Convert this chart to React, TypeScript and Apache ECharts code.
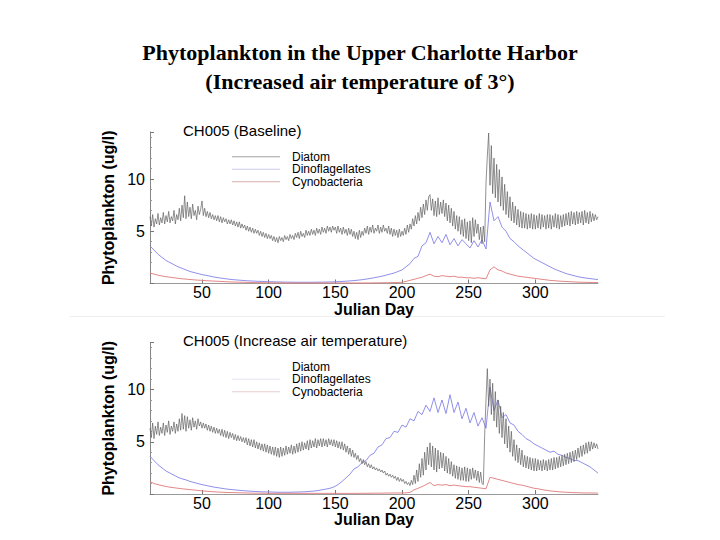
import React, { useEffect, useRef } from "react";
import * as echarts from "echarts";

const titleLines = ["Phytoplankton in the Upper Charlotte Harbor", "(Increased air temperature of 3°)"];
const panelTitles = ["CH005 (Baseline)", "CH005 (Increase air temperature)"];
const seriesNames = ["Diatom", "Dinoflagellates", "Cynobacteria"];
const xAxisName = "Julian Day";
const yAxisName = "Phytoplankton (ug/l)";
const firstDay = 11;
const lastDay = 347;
const diatomStep = 1;
const otherStep = 3;
const yTickLabels = [5, 10];

// Baseline panel, daily values from day 11
const diatomBaseline = [
  6.4,5.5,6.6,5.4,6.2,5.7,6.7,5.6,6.3,5.8,
  6.8,5.7,6.5,5.9,6.9,5.8,6.4,6.0,7.0,5.7,
  6.6,6.1,7.2,6.0,7.5,6.3,8.4,6.2,7.8,6.4,
  7.3,6.2,7.6,6.5,7.0,6.1,7.4,6.6,7.1,7.9,
  6.5,7.2,6.4,6.9,6.3,6.8,6.2,6.6,6.1,6.5,
  6.0,6.5,5.9,6.4,5.8,6.3,5.9,6.2,5.7,6.1,
  5.7,6.1,5.6,6.0,5.5,5.9,5.4,5.9,5.3,5.7,
  5.3,5.6,5.1,5.5,5.0,5.4,4.9,5.3,4.8,5.2,
  4.8,5.1,4.6,5.0,4.5,4.9,4.4,4.8,4.3,4.7,
  4.3,4.6,4.1,4.5,4.0,4.4,3.9,4.5,4.1,4.4,
  4.0,4.6,4.2,4.5,4.1,4.7,4.3,4.6,4.2,4.8,
  4.4,4.9,4.3,5.0,4.5,4.8,4.4,5.1,4.6,5.0,
  4.6,5.2,4.7,5.1,4.6,5.3,4.8,5.2,4.7,5.4,
  4.9,5.3,4.8,5.5,5.0,5.4,4.9,5.5,5.1,5.4,
  4.8,5.5,4.9,5.3,4.7,5.4,4.8,5.2,4.6,5.3,
  4.7,5.2,4.5,5.0,4.3,4.9,4.2,5.1,4.4,5.0,
  4.6,5.3,4.8,5.5,4.7,5.4,4.9,5.6,4.8,5.3,
  5.0,5.6,4.8,5.4,4.9,5.6,5.0,5.3,4.8,5.5,
  4.7,5.3,4.5,5.2,4.6,5.1,4.4,5.2,4.5,5.0,
  4.6,5.3,4.7,5.6,4.9,5.7,5.2,6.2,5.5,6.5,
  5.7,6.8,6.0,7.3,6.3,7.6,6.6,8.0,7.0,8.3,
  8.5,7.0,8.1,6.5,7.9,6.4,8.2,6.6,7.8,6.7,
  8.0,6.4,7.7,6.0,7.5,5.8,7.2,5.5,6.9,5.2,
  6.5,5.0,6.4,4.7,6.1,4.5,6.2,4.3,5.9,4.1,
  6.0,3.9,6.3,4.5,6.1,4.8,5.7,4.2,5.4,3.8,
  5.5,4.0,9.6,12.2,14.4,9.4,13.2,8.6,12.0,8.2,
  11.4,7.8,10.9,7.4,10.2,7.0,9.5,6.6,8.8,6.3,
  8.3,6.0,7.8,5.8,7.4,5.6,7.1,5.4,6.9,5.3,
  6.8,5.3,6.7,5.2,6.6,5.3,6.7,5.2,6.6,5.2,
  6.5,5.3,6.7,5.2,6.6,5.4,6.5,5.2,6.6,5.3,
  6.6,5.2,6.5,5.4,6.7,5.3,6.6,5.2,6.5,5.4,
  6.6,5.5,6.7,5.6,6.8,5.5,6.9,5.7,6.8,5.6,
  6.9,5.7,6.8,5.8,6.9,5.6,7.0,5.8,6.8,5.7,
  6.9,5.9,6.7,6.0,6.6,6.1,6.4
];

// Baseline panel, every 3 days from day 11
const dinoBaseline = [
  3.6,3.2,2.8,2.5,2.2,2.0,1.8,1.6,1.45,1.3,
  1.15,1.05,0.95,0.85,0.78,0.7,0.62,0.56,0.5,0.45,
  0.4,0.36,0.33,0.3,0.27,0.25,0.23,0.21,0.2,0.18,
  0.17,0.16,0.15,0.14,0.13,0.13,0.12,0.12,0.12,0.12,
  0.12,0.12,0.13,0.13,0.14,0.15,0.16,0.18,0.2,0.22,
  0.25,0.28,0.32,0.36,0.42,0.48,0.55,0.62,0.7,0.8,
  0.9,1.0,1.15,1.3,1.6,1.9,2.4,2.6,3.6,3.9,
  4.9,3.8,4.5,3.9,4.7,3.7,4.3,3.6,4.2,3.8,
  3.4,4.1,3.5,4.2,3.3,7.8,6.0,6.4,5.4,5.0,
  4.3,4.0,3.6,3.3,3.0,2.7,2.4,2.2,2.0,1.8,
  1.6,1.4,1.25,1.1,0.95,0.85,0.75,0.65,0.58,0.52,
  0.47,0.42,0.38
];

const cyanoBaseline = [
  1.0,0.9,0.8,0.72,0.65,0.6,0.55,0.5,0.45,0.42,
  0.38,0.35,0.32,0.3,0.27,0.25,0.23,0.21,0.19,0.17,
  0.15,0.14,0.13,0.12,0.11,0.1,0.09,0.08,0.08,0.07,
  0.07,0.06,0.06,0.06,0.05,0.05,0.05,0.05,0.05,0.05,
  0.05,0.05,0.05,0.05,0.05,0.05,0.05,0.05,0.05,0.05,
  0.05,0.05,0.05,0.05,0.05,0.05,0.06,0.06,0.07,0.07,
  0.08,0.09,0.1,0.12,0.2,0.3,0.4,0.5,0.6,0.75,
  0.9,0.7,0.65,0.75,0.7,0.65,0.7,0.6,0.6,0.55,
  0.55,0.5,0.55,0.5,0.45,1.3,1.6,1.3,1.2,1.0,
  0.9,0.8,0.7,0.65,0.6,0.55,0.5,0.45,0.4,0.35,
  0.3,0.27,0.24,0.21,0.19,0.17,0.15,0.13,0.12,0.11,
  0.1,0.1,0.09
];

// Increased air temperature panel, daily values from day 11
const diatomIncreased = [
  6.3,5.4,6.8,5.3,6.5,5.7,6.9,5.6,6.4,5.8,
  6.8,5.6,6.6,5.9,7.0,5.7,6.5,6.0,6.9,5.8,
  6.7,6.0,7.2,6.1,7.7,6.2,7.5,6.0,7.4,6.3,
  7.1,6.1,7.3,6.4,7.0,6.2,7.2,6.5,6.9,6.3,
  6.8,6.3,6.7,6.1,6.6,6.0,6.5,5.9,6.4,5.8,
  6.3,5.8,6.2,5.6,6.2,5.5,6.1,5.4,6.0,5.3,
  5.9,5.4,5.8,5.2,5.7,5.1,5.6,5.1,5.5,5.0,
  5.4,4.9,5.4,4.7,5.3,4.6,5.2,4.5,5.2,4.4,
  5.0,4.3,4.9,4.2,4.8,4.1,4.8,4.0,4.7,3.9,
  4.6,3.8,4.5,3.7,4.5,3.6,4.4,3.5,4.5,3.6,
  4.4,3.7,4.6,3.8,4.5,3.9,4.7,3.8,4.6,3.9,
  4.8,4.0,4.9,4.1,5.0,4.2,4.9,4.3,5.1,4.2,
  5.2,4.4,5.1,4.5,5.3,4.4,5.2,4.6,5.3,4.5,
  5.3,4.6,5.2,4.5,5.3,4.7,5.2,4.6,5.2,4.5,
  5.1,4.4,5.0,4.3,5.0,4.2,4.8,4.0,4.6,3.8,
  4.4,3.6,4.2,3.5,3.9,3.3,3.7,3.1,3.4,2.9,
  3.3,2.8,3.1,2.6,2.9,2.5,2.8,2.4,2.6,2.3,
  2.5,2.2,2.4,2.1,2.3,2.0,2.2,1.8,2.0,1.7,
  1.9,1.6,1.8,1.5,1.7,1.3,1.6,1.2,1.5,1.2,
  1.4,1.0,1.2,0.9,1.1,0.8,1.3,0.9,1.8,1.0,
  2.3,1.2,2.9,1.6,3.4,1.8,4.0,2.3,4.5,2.8,
  4.9,2.6,4.6,2.3,4.4,2.1,4.2,2.4,4.0,2.5,
  3.9,2.2,3.6,2.0,3.4,1.9,3.1,1.7,2.8,1.5,
  2.7,1.4,2.6,1.3,2.5,1.3,2.6,1.2,2.5,1.2,
  2.4,1.4,2.5,1.5,2.3,1.3,2.2,1.1,2.1,1.0,
  0.9,5.6,9.0,12.0,8.4,11.0,7.6,10.6,7.0,9.8,
  6.4,9.0,5.8,8.4,5.4,7.8,4.8,7.2,4.4,6.5,
  4.0,6.0,3.6,5.2,3.2,4.7,3.0,4.4,2.8,4.2,
  2.6,3.7,2.5,3.6,2.4,3.5,2.3,3.4,2.2,3.4,
  2.2,3.3,2.3,3.2,2.2,3.3,2.3,3.2,2.2,3.3,
  2.3,3.4,2.3,3.5,2.4,3.5,2.5,3.6,2.6,3.7,
  2.7,3.8,2.8,3.9,2.9,4.0,3.0,4.1,3.1,4.2,
  3.3,4.4,3.5,4.6,3.6,4.7,3.8,4.9,3.9,5.0,
  4.1,5.0,4.3,4.9,4.4,4.8,4.3
];

// Increased air temperature panel, every 3 days from day 11
const dinoIncreased = [
  3.6,3.2,2.8,2.5,2.2,2.0,1.8,1.6,1.45,1.35,
  1.2,1.1,1.0,0.9,0.82,0.74,0.66,0.6,0.54,0.48,
  0.44,0.4,0.36,0.33,0.3,0.27,0.25,0.23,0.21,0.2,
  0.19,0.18,0.17,0.17,0.17,0.17,0.18,0.19,0.2,0.22,
  0.25,0.28,0.33,0.4,0.47,0.55,0.68,0.9,1.2,1.55,
  1.9,2.4,2.6,3.0,3.2,3.7,3.9,4.5,4.7,5.3,
  5.4,6.0,5.9,6.6,6.4,7.2,7.0,7.9,7.6,8.5,
  7.9,9.2,7.8,9.0,7.7,9.5,7.8,8.8,7.2,8.2,
  6.8,7.8,6.5,7.3,6.3,10.2,8.0,9.0,7.3,7.6,
  6.8,6.6,6.0,5.7,5.3,5.1,4.8,4.6,4.4,4.2,
  4.0,4.1,3.8,3.7,3.5,3.4,3.2,3.2,3.0,2.8,
  2.6,2.3,2.0
];

const cyanoIncreased = [
  1.2,1.0,0.9,0.8,0.72,0.65,0.6,0.55,0.5,0.46,
  0.42,0.38,0.34,0.3,0.27,0.24,0.21,0.19,0.17,0.15,
  0.14,0.13,0.12,0.11,0.1,0.09,0.08,0.08,0.07,0.07,
  0.06,0.06,0.06,0.06,0.06,0.06,0.06,0.06,0.06,0.06,
  0.06,0.06,0.06,0.06,0.06,0.06,0.06,0.06,0.06,0.06,
  0.06,0.06,0.06,0.07,0.07,0.07,0.08,0.08,0.08,0.09,
  0.09,0.1,0.1,0.1,0.11,0.15,0.4,0.55,0.7,0.9,
  1.1,0.8,0.9,0.85,0.9,0.8,0.85,0.8,0.75,0.7,
  0.7,0.65,0.6,0.55,0.5,1.6,1.5,1.4,1.3,1.2,
  1.1,1.0,0.9,0.85,0.75,0.65,0.55,0.5,0.42,0.36,
  0.3,0.26,0.22,0.19,0.17,0.15,0.13,0.12,0.11,0.1,
  0.1,0.09,0.09
];

const SANS = "'Liberation Sans', Arial, sans-serif";
const SERIF = "'Liberation Serif', 'Times New Roman', serif";
const seriesColors = ["#626262", "#8383e8", "#e07b7b"];

function toPoints(values: number[], step: number) {
  return values.map((v, i) => [firstDay + i * step, v]);
}

export default function App() {
  const ref = useRef<HTMLDivElement>(null);
  useEffect(() => {
    if (!ref.current) return;
    const chart = echarts.init(ref.current, undefined, { renderer: "svg" });
    const gridTops = [132, 342.5];
    const gridH = 151.5;

    const makeX = (gi: number) => ({
      type: "value",
      gridIndex: gi,
      min: firstDay,
      max: lastDay,
      name: xAxisName,
      nameLocation: "middle",
      nameGap: 12,
      nameTextStyle: { fontFamily: SANS, fontSize: 16, fontWeight: "bold", color: "#000" },
      axisLine: { show: true, lineStyle: { color: "#999", width: 1 } },
      axisTick: { show: true, inside: true, length: 4, lineStyle: { color: "#777" } },
      minorTick: { show: false },
      axisLabel: {
        showMinLabel: false,
        showMaxLabel: false,
        fontFamily: SANS,
        fontSize: 16,
        color: "#000",
        margin: 1,
      },
      splitLine: { show: false },
    });
    const makeY = (gi: number) => ({
      type: "value",
      gridIndex: gi,
      min: 0,
      max: 14.5,
      interval: 5,
      name: yAxisName,
      nameLocation: "middle",
      nameGap: 27,
      nameTextStyle: { fontFamily: SANS, fontSize: 16, fontWeight: "bold", color: "#000" },
      axisLine: { show: true, lineStyle: { color: "#888", width: 1 } },
      axisTick: { show: true, inside: true, length: 4, lineStyle: { color: "#777" } },
      minorTick: { show: true, splitNumber: 5, length: 2, lineStyle: { color: "#999" } },
      axisLabel: {
        formatter: (v: number) => (yTickLabels.includes(v) ? String(v) : ""),
        fontFamily: SANS,
        fontSize: 16,
        color: "#000",
        margin: 5,
      },
      splitLine: { show: false },
    });

    const legendColorsTop = ["#a3a3a3", "#c9c9ec", "#d9adad"];
    const legendColorsBottom = ["rgba(0,0,0,0)", "#e4e4f2", "#e6cccc"];
    const makeLegend = (top: number, colors: string[]) => ({
      orient: "vertical",
      left: 232,
      top,
      icon: "rect",
      itemWidth: 48,
      itemHeight: 1,
      itemGap: 0,
      selectedMode: false,
      padding: 0,
      textStyle: { fontFamily: SANS, fontSize: 12, color: "#000", lineHeight: 12.5, padding: [0, 0, 0, 7] },
      data: seriesNames.map((n, i) => ({ name: n, itemStyle: { color: colors[i] } })),
    });

    const panelData = [
      [diatomBaseline, dinoBaseline, cyanoBaseline],
      [diatomIncreased, dinoIncreased, cyanoIncreased],
    ];
    const drawOrder = [1, 2, 0];
    const series: any[] = [];
    panelData.forEach((arrs, gi) => {
      drawOrder.forEach((si) => {
        series.push({
          type: "line",
          name: seriesNames[si],
          xAxisIndex: gi,
          yAxisIndex: gi,
          data: toPoints(arrs[si], si === 0 ? diatomStep : otherStep),
          showSymbol: false,
          symbol: "none",
          silent: true,
          color: seriesColors[si],
          lineStyle: { width: si === 0 ? 0.7 : 0.9, color: seriesColors[si] },
          z: si === 0 ? 3 : 2,
        });
      });
    });

    chart.setOption({
      animation: false,
      backgroundColor: "#fff",
      title: [
        { text: titleLines[0], left: "center", top: 41, padding: 0,
          textStyle: { fontFamily: SERIF, fontWeight: "bold", fontSize: 22, color: "#000" } },
        { text: titleLines[1], left: "center", top: 70, padding: 0,
          textStyle: { fontFamily: SERIF, fontWeight: "bold", fontSize: 22, color: "#000" } },
        { text: panelTitles[0], left: 183, top: 122.5, padding: 0,
          textStyle: { fontFamily: SANS, fontWeight: "normal", fontSize: 15, color: "#000" } },
        { text: panelTitles[1], left: 183, top: 332.5, padding: 0,
          textStyle: { fontFamily: SANS, fontWeight: "normal", fontSize: 15, color: "#000" } },
      ],
      legend: [makeLegend(150.5, legendColorsTop), makeLegend(360.5, legendColorsBottom)],
      grid: gridTops.map((t) => ({ left: 150, top: t, width: 448, height: gridH, containLabel: false })),
      xAxis: [makeX(0), makeX(1)],
      yAxis: [makeY(0), makeY(1)],
      graphic: [
        { type: "line", shape: { x1: 70, y1: 316.5, x2: 665, y2: 316.5 },
          style: { stroke: "#eeeeee", lineWidth: 1 }, silent: true },
      ],
      series,
    });
    return () => chart.dispose();
  }, []);
  return (
    <div
      ref={ref}
      style={{ position: "absolute", left: 0, top: 0, width: 720, height: 540, background: "#fff" }}
    />
  );
}
